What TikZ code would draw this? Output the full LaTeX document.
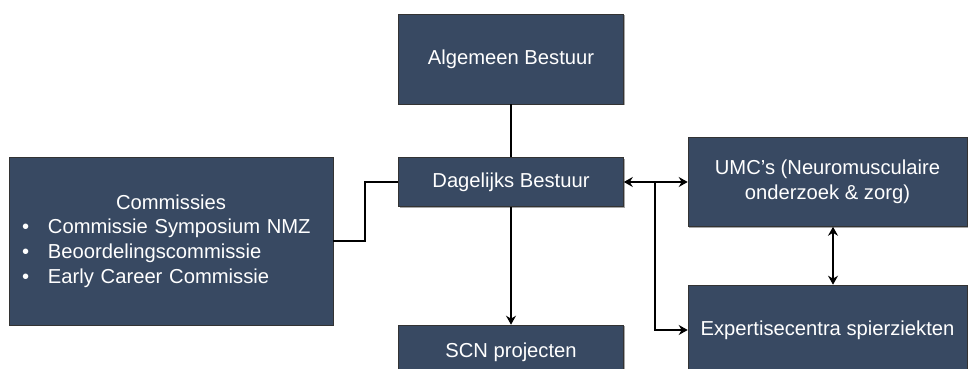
\documentclass[tikz,border=0pt]{standalone}
\usepackage{fontspec}
\setmainfont{Liberation Sans}
\usetikzlibrary{arrows.meta,shadows}
\definecolor{boxblue}{RGB}{56,73,98}
\tikzset{
  box/.style={draw=black!80, line width=0.6pt, fill=boxblue, text=white, align=center,
    inner sep=0pt, font=\fontsize{20.2}{24.8}\selectfont,
    drop shadow={shadow xshift=1.2pt, shadow yshift=-1.2pt, opacity=0.35, fill=black}},
  conn/.style={line width=2.2pt, black},
  tip/.style={-{Stealth[length=9pt,width=10pt,inset=3pt]}},
  dtip/.style={{Stealth[length=9pt,width=10pt,inset=3pt]}-{Stealth[length=9pt,width=10pt,inset=3pt]}}
}
\begin{document}
\begin{tikzpicture}[x=1pt,y=1pt]
\useasboundingbox (0,0) rectangle (968,369);
\clip (0,0) rectangle (968,369);
\node[box, minimum width=225pt, minimum height=90pt] (alg) at (511,310) {Algemeen Bestuur};
\node[box, minimum width=225pt, minimum height=49pt] (dag) at (511,187) {Dagelijks Bestuur};
\node[box, minimum width=324pt, minimum height=168pt, text width=298pt, inner xsep=13pt, align=left] (com) at (171,128)
  {\makebox[298pt][c]{Commissies}\\
   \makebox[26pt][l]{\textbullet}Commissie Symposium NMZ\\
   \makebox[26pt][l]{\textbullet}Beoordelingscommissie\\
   \makebox[26pt][l]{\textbullet}Early Career Commissie};
\node[box, minimum width=279pt, minimum height=89pt] (umc) at (827.5,187) {UMC’s (Neuromusculaire\\onderzoek \& zorg)};
\node[box, minimum width=279pt, minimum height=90pt] (exp) at (827.5,39) {Expertisecentra spierziekten};
\node[box, minimum width=225pt, minimum height=54pt] (scn) at (511,17) {SCN projecten};
\coordinate (j1) at (365,128);
\coordinate (j2) at (655,187);
\draw[conn] (alg.south) -- (dag.north);
\draw[conn, tip] (dag.south) -- (scn.north);
\draw[conn] (com.east) -- (j1) |- (dag.west);
\draw[conn, dtip] (dag.east) -- (umc.west);
\draw[conn, tip] (j2) |- (exp.west);
\draw[conn, dtip] (umc.south -| 833,0) -- (exp.north -| 833,0);
\end{tikzpicture}
\end{document}
